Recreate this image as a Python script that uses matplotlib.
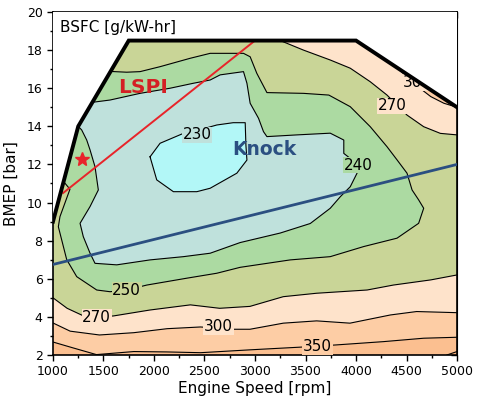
import numpy as np
import matplotlib
matplotlib.use("Agg")
import matplotlib.pyplot as plt
from matplotlib.patches import Polygon
from matplotlib.ticker import MultipleLocator

# full load (max torque) curve
wot_rpm = [1000, 1250, 1750, 4000, 5000]
wot_bmep = [9.0, 14.0, 18.5, 18.5, 15.0]

# BSFC iso-lines [rpm], [bar]
rpm_400 = [4900, 5000]
bmep_400 = [2.0, 2.18]

rpm_350 = [1000, 1200, 1430, 1800, 2130, 2460, 2950, 3480, 3810, 4270, 4670, 5000]
bmep_350 = [2.68, 2.37, 2.02, 2.18, 2.16, 2.12, 2.27, 2.42, 2.53, 2.70, 2.88, 2.93]

rpm_300 = [1000, 1170, 1460, 1800, 2130, 2460, 2790, 2950, 3280, 3610, 3940, 4340, 4600, 5000]
bmep_300 = [3.68, 3.25, 3.05, 3.17, 3.38, 3.47, 3.35, 3.35, 3.67, 3.79, 3.67, 4.10, 4.28, 4.22]
rpm_300_hi = [4420, 4530, 4620, 4740, 4870, 5000]
bmep_300_hi = [17.03, 16.45, 16.05, 15.56, 15.21, 15.0]

rpm_270 = [1000, 1140, 1290, 1430, 1600, 1960, 2360, 2650, 2950, 3280, 3610, 4110, 4370, 4740, 5000]
bmep_270 = [5.0, 4.45, 4.08, 3.97, 4.05, 4.36, 4.63, 4.45, 4.55, 5.06, 5.24, 5.41, 5.67, 5.94, 6.2]
rpm_270_hi = [3250, 3480, 3745, 3943, 4141, 4307, 4505, 4670, 4835, 5000]
bmep_270_hi = [18.5, 18.0, 17.48, 17.05, 16.34, 15.64, 14.59, 13.98, 13.63, 13.55]

rpm_250 = [1570, 1730, 1862, 2060, 2358, 2556, 2886, 2952, 3018, 3118, 3480, 3731, 3943,
           4141, 4307, 4406, 4505, 4555, 4620, 4670, 4620, 4406, 4076, 3745, 3349, 2853,
           2622, 2325, 1929, 1730, 1565, 1433, 1235, 1136, 1053, 1069, 1168, 1105]
bmep_250 = [16.88, 16.84, 16.87, 17.13, 17.57, 17.83, 17.83, 17.65, 16.78, 15.77, 15.73, 15.64, 15.03,
            13.98, 12.93, 12.24, 11.54, 10.66, 10.14, 9.7, 8.91, 8.13, 7.69, 7.16, 6.99, 6.6,
            6.29, 6.03, 5.67, 5.41, 5.32, 5.41, 6.11, 7.0, 8.73, 9.26, 10.7, 11.1]

rpm_240 = [1390, 1565, 1862, 2160, 2390, 2556, 2655, 2886, 2920, 2952, 3035, 3084, 3118, 3415,
           3745, 3879, 3879, 4026, 4010, 3943, 3845, 3745, 3547, 3250, 2853, 2556, 2291, 1961,
           1631, 1416, 1367, 1300, 1268, 1367, 1449, 1416, 1367, 1334, 1284, 1250]
bmep_240 = [15.26, 15.38, 15.73, 16.0, 16.26, 16.43, 16.7, 16.87, 16.26, 15.21, 14.42, 13.72, 13.46, 13.55,
            13.64, 13.28, 12.58, 11.97, 11.54, 10.83, 10.31, 9.7, 8.9, 8.4, 7.9, 7.34, 7.16, 6.99,
            6.73, 6.81, 7.34, 8.21, 8.91, 9.79, 10.66, 11.88, 12.76, 13.28, 13.81, 14.0]

rpm_230 = [1961, 2060, 2291, 2440, 2622, 2784, 2903, 2910, 2920, 2820, 2556, 2424, 2192, 2027, 1961]
bmep_230 = [12.4, 13.11, 13.63, 13.8, 14.07, 14.19, 14.19, 13.0, 12.23, 11.54, 10.75, 10.57, 10.57, 11.19, 12.4]

# LSPI / knock limit lines and operating point
lspi_rpm = [1100, 3000]
lspi_bmep = [10.5, 18.5]
knock_rpm = [1000, 5000]
knock_bmep = [6.75, 12.0]
star_rpm = [1290]
star_bmep = [12.27]

# contour labels
lab_text = ["230", "240", "250", "270", "270", "300", "300", "350"]
lab_rpm = [2427, 4026, 1730, 1433, 4360, 2638, 4610, 3620]
lab_bmep = [13.55, 11.97, 5.41, 3.97, 15.07, 3.47, 16.3, 2.42]

c_lt230 = "#b2f7f7"
c_230 = "#bfe1dc"
c_240 = "#acdaa2"
c_250 = "#c9d597"
c_270 = "#fee3cb"
c_300 = "#fdcda5"
c_350 = "#fbbf90"
c_400 = "#f8ae7a"
lab_bg = [c_230, c_240, c_250, c_270, c_270, c_270, c_270, c_300]

fig = plt.figure(figsize=(4.92, 4.05), dpi=100)
ax = fig.add_axes([0.1077, 0.1235, 0.8212, 0.8469])
ax.set_xlim(1000, 5000)
ax.set_ylim(2, 20)

# area under the full load curve, everything else is clipped to it
region = Polygon(list(zip([1000] + wot_rpm + [5000], [2] + wot_bmep + [2])), closed=True,
                 fc=c_350, ec="none", zorder=1)
ax.add_patch(region)


def fill(xs, ys, color):
    p = Polygon(list(zip(xs, ys)), closed=True, fc=color, ec="none", zorder=1)
    ax.add_patch(p)
    p.set_clip_path(region)


fill(rpm_400 + [5000], bmep_400 + [2], c_400)
fill(rpm_350 + [5000, 1000], bmep_350 + [20, 20], c_300)
fill(rpm_300 + rpm_300_hi[::-1] + [rpm_300_hi[0], 1000],
     bmep_300 + bmep_300_hi[::-1] + [20, 20], c_270)
fill(rpm_270 + rpm_270_hi[::-1] + [rpm_270_hi[0], 1000],
     bmep_270 + bmep_270_hi[::-1] + [20, 20], c_250)
fill(rpm_250 + [1000, rpm_250[0]], bmep_250 + [20, 20], c_240)
fill(rpm_240 + [1000, rpm_240[0]], bmep_240 + [20, 20], c_230)
fill(rpm_230, bmep_230, c_lt230)

for xs, ys in [(rpm_400, bmep_400), (rpm_350, bmep_350), (rpm_300, bmep_300),
               (rpm_300_hi, bmep_300_hi), (rpm_270, bmep_270), (rpm_270_hi, bmep_270_hi),
               (rpm_250, bmep_250), (rpm_240, bmep_240), (rpm_230, bmep_230)]:
    ln, = ax.plot(xs, ys, color="black", lw=0.8, zorder=2)
    ln.set_clip_path(region)

for t, x, y, bg in zip(lab_text, lab_rpm, lab_bmep, lab_bg):
    ax.text(x, y, t, fontsize=11, ha="center", va="center", zorder=3,
            bbox=dict(boxstyle="square,pad=0.05", fc=bg, ec="none"))

# white above the full load curve hides label parts that stick out
mask = Polygon(list(zip(wot_rpm + [5000, 1000], wot_bmep + [20, 20])), closed=True,
               fc="white", ec="none", zorder=3.5)
ax.add_patch(mask)

ax.plot(lspi_rpm, lspi_bmep, color="#e8242a", lw=1.4, zorder=4)
ax.plot(knock_rpm, knock_bmep, color="#2b4f81", lw=2.0, zorder=4)
ax.plot(star_rpm, star_bmep, marker="*", color="#e8242a", ms=10, ls="none", zorder=5)
ax.plot(wot_rpm, wot_bmep, color="black", lw=2.8, solid_joinstyle="miter", zorder=5)

ax.text(1069, 18.95, "BSFC [g/kW-hr]", fontsize=11, ha="left", va="baseline", zorder=6)
ax.text(1644, 15.75, "LSPI", fontsize=14.5, color="#d42024", fontweight="bold",
        ha="left", va="baseline", zorder=6)
ax.text(2771, 12.5, "Knock", fontsize=13.5, color="#2b4f81", fontweight="bold",
        ha="left", va="baseline", zorder=6)

ax.set_xlabel("Engine Speed [rpm]", fontsize=11, labelpad=2)
ax.set_ylabel("BMEP [bar]", fontsize=11, labelpad=6)

ax.xaxis.set_major_locator(MultipleLocator(500))
ax.xaxis.set_minor_locator(MultipleLocator(250))
ax.yaxis.set_major_locator(MultipleLocator(2))
ax.yaxis.set_minor_locator(MultipleLocator(1))
ax.tick_params(which="both", direction="out", labelsize=9, width=1.0)
ax.tick_params(which="major", length=4)
ax.tick_params(which="minor", length=2.5)

# mirrored ticks pointing inwards on top and right
secx = ax.secondary_xaxis("top")
secx.xaxis.set_major_locator(MultipleLocator(500))
secx.xaxis.set_minor_locator(MultipleLocator(250))
secx.tick_params(which="both", direction="in", labeltop=False, width=1.0)
secx.tick_params(which="major", length=4)
secx.tick_params(which="minor", length=2.5)
secy = ax.secondary_yaxis("right")
secy.yaxis.set_major_locator(MultipleLocator(2))
secy.yaxis.set_minor_locator(MultipleLocator(1))
secy.tick_params(which="both", direction="in", labelright=False, width=1.0)
secy.tick_params(which="major", length=4)
secy.tick_params(which="minor", length=2.5)

for s in ax.spines.values():
    s.set_linewidth(1.2)

fig.savefig("out.png", dpi=100)
